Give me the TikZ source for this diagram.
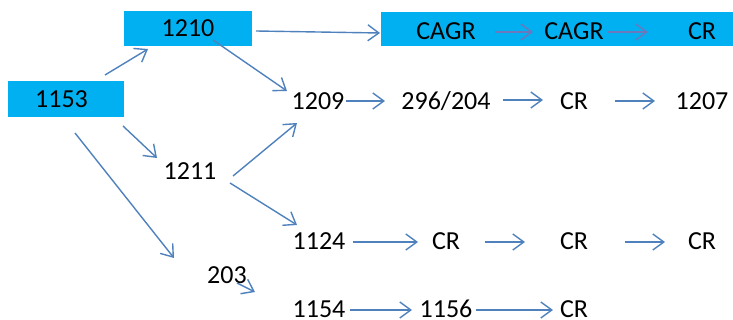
\documentclass[tikz,border=0pt]{standalone}
\usepackage{fontspec}
\setmainfont{Carlito}
\usetikzlibrary{arrows.meta}

\definecolor{boxblue}{HTML}{00B0F0}
\definecolor{linkblue}{HTML}{4F81BD}
\definecolor{innerlink}{HTML}{6C78BC}

\tikzset{
  lbl/.style={inner sep=0pt, text height=17pt, text depth=0pt,
    font=\fontsize{26}{30}\selectfont},
  bluebox/.style={lbl, fill=boxblue, draw=none},
  arr/.style={draw=linkblue, line width=1.4pt,
    -{Straight Barb[length=11pt,width=16pt,line width=1.4pt]}},
  innerarr/.style={arr, draw=innerlink},
}

\begin{document}
\begin{tikzpicture}[x=1pt, y=-1pt]
\useasboundingbox (0,0) rectangle (733,320);

% highlighted boxes
\node[bluebox, minimum width=116pt, minimum height=36pt] (n1153) at (66,99) {\hspace{-9pt}1153};
\node[bluebox, minimum width=128pt, minimum height=35pt] (n1210) at (188,28.5) {1210};
\node[fill=boxblue, minimum width=352pt, minimum height=34pt, inner sep=0pt] (band) at (557,29) {};

% top band
\node[lbl] (cagr1) at (446,31) {CAGR};
\node[lbl] (cagr2) at (574,31) {CAGR};
\node[lbl] (crA)   at (702,31) {CR};

% second row
\node[lbl] (n1209) at (318,101) {1209};
\node[lbl] (n296)  at (446,101) {296/204};
\node[lbl] (crB)   at (574,101) {CR};
\node[lbl] (n1207) at (702,101) {1207};

% middle branch
\node[lbl] (n1211) at (190,171) {1211};
\node[lbl] (n1124) at (319,241) {1124};
\node[lbl] (crC)   at (446,241) {CR};
\node[lbl] (crD)   at (574,241) {CR};
\node[lbl] (crE)   at (702,241) {CR};

% lower branch
\node[lbl] (n203)  at (227,275) {203};
\node[lbl] (n1154) at (319,309) {1154};
\node[lbl] (n1156) at (446,309) {1156};
\node[lbl] (crF)   at (574,309) {CR};

% connectors
\draw[arr] ([shift={(39,-24)}]n1153.center) -- ([shift={(-40,20.5)}]n1210.center);
\draw[arr] ([shift={(68,2.5)}]n1210.center) -- ([shift={(-177,4)}]band.center);
\draw[innerarr] ([shift={(49,1)}]cagr1.center) -- ([shift={(-41,1)}]cagr2.center);
\draw[innerarr] ([shift={(34,1)}]cagr2.center) -- ([shift={(-54,1)}]crA.center);

\draw[arr] ([shift={(25,11.5)}]n1210.center) -- ([shift={(-31,-10)}]n1209.center);
\draw[arr] ([shift={(28,0)}]n1209.center) -- ([shift={(-61,0)}]n296.center);
\draw[arr] ([shift={(57,-1)}]n296.center) -- ([shift={(-31,-1)}]crB.center);
\draw[arr] ([shift={(41,0)}]crB.center) -- ([shift={(-47,0)}]n1207.center);

\draw[arr] ([shift={(57,27)}]n1153.center) -- ([shift={(-33,-13)}]n1211.center);
\draw[arr] ([shift={(43,5)}]n1211.center) -- ([shift={(-21,22)}]n1209.center);
\draw[arr] ([shift={(40,12)}]n1211.center) -- ([shift={(-22,-16)}]n1124.center);
\draw[arr] ([shift={(34,1)}]n1124.center) -- ([shift={(-28,1)}]crC.center);
\draw[arr] ([shift={(39,1)}]crC.center) -- ([shift={(-49,1)}]crD.center);
\draw[arr] ([shift={(51,1)}]crD.center) -- ([shift={(-37,1)}]crE.center);

\draw[arr] ([shift={(9,34)}]n1153.center) -- ([shift={(-53,-17)}]n203.center);
\draw[arr] ([shift={(10,8)}]n203.center) -- ([shift={(-64,-17)}]n1154.center);
\draw[arr] ([shift={(31,1)}]n1154.center) -- ([shift={(-34,1)}]n1156.center);
\draw[arr] ([shift={(30,1)}]n1156.center) -- ([shift={(-21,1)}]crF.center);
\end{tikzpicture}
\end{document}
